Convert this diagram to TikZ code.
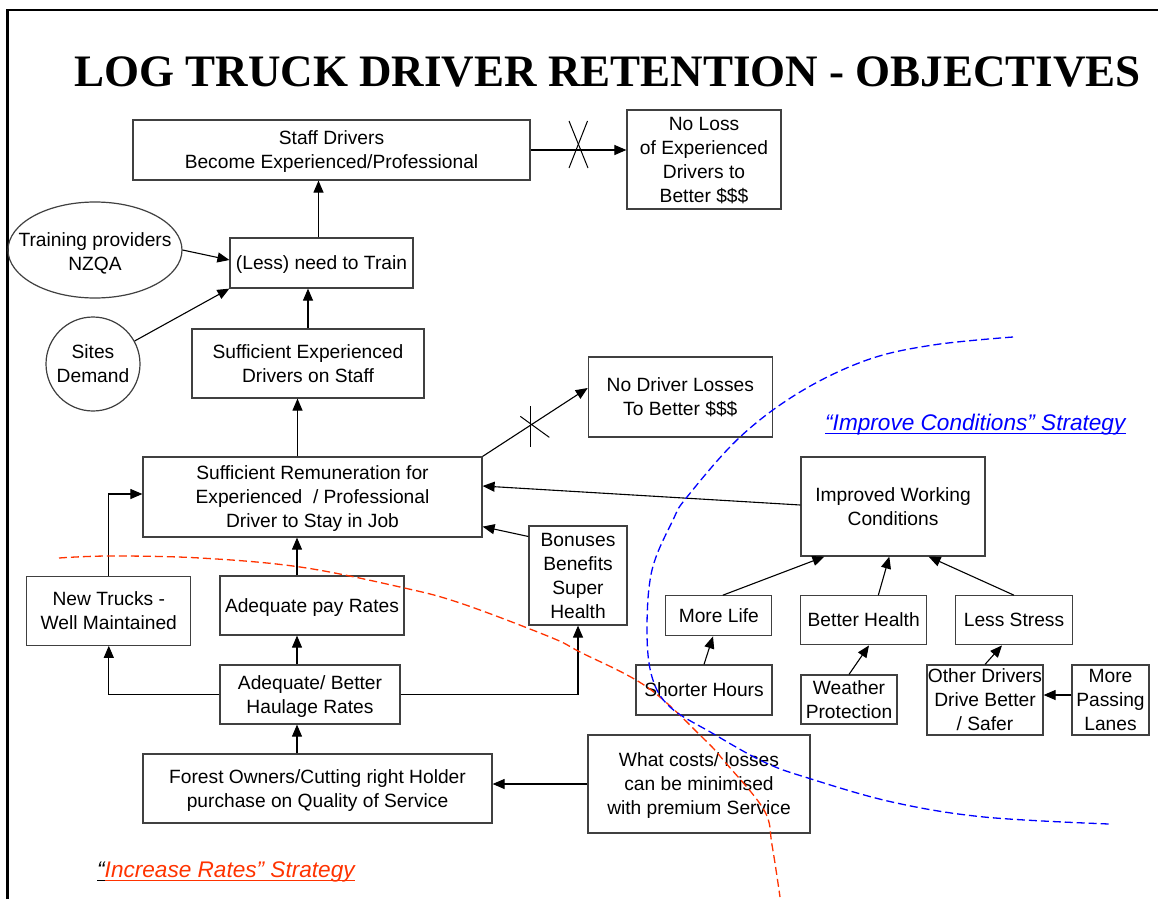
\documentclass[tikz,border=0pt]{standalone}
\usepackage{fontspec}
\setmainfont{Liberation Sans}
\newfontfamily\titlefont{Liberation Serif}
\usetikzlibrary{arrows.meta,shapes.geometric,calc}

\definecolor{boxline}{RGB}{64,64,64}
\definecolor{ratesred}{RGB}{255,51,0}
\definecolor{condblue}{RGB}{0,0,255}

% line strut: fixed ascent and descent for the first and last text lines
\newcommand\boxstrut{\rule[-4.1pt]{0pt}{21.5pt}}

\begin{document}
\begin{tikzpicture}[x=1pt,y=-1pt,
  boxtext/.style={inner sep=0pt, align=center, text=black,
    font=\fontsize{19.2}{24}\selectfont,
    execute at end node={\boxstrut}},
  box/.style={boxtext, draw=boxline, line width=1.2pt, rectangle},
  sz/.style 2 args={minimum width=#1pt, minimum height=#2pt},
  arr/.style={-{Triangle[length=12pt,width=10pt]}, line width=1.1pt, black},
  xmark/.style={line width=1pt, black},
  strat/.style={inner sep=0pt, font=\itshape\fontsize{22.6}{26}\selectfont},
  strategyline/.style={dashed, dash pattern=on 8pt off 4pt, line width=1.3pt}
]
\useasboundingbox (0,0) rectangle (1158,899);
\fill[white] (0,0) rectangle (1158,899);

% page frame
\draw[line width=2.7pt, line join=miter] (7.5,899) -- (7.5,10) -- (1158,10);

% title
\node[anchor=base, inner sep=0pt, font={\titlefont\bfseries\fontsize{45}{50}\selectfont}]
  (title) at (607.5,86) {LOG TRUCK DRIVER RETENTION - OBJECTIVES};

% boxes
\node[box, sz={397}{60}] (sd) at (331.5,150) {\boxstrut Staff Drivers\\Become Experienced/Professional};
\node[box, sz={154}{99}] (nl) at (704,159.5) {\boxstrut No Loss\\of Experienced\\Drivers to\\Better \$\$\$};
\node[draw=boxline, line width=1.2pt, ellipse, inner sep=0pt, sz={174}{96}] (tp) at (95,250) {};
\node[boxtext] (tptext) at ($(tp.center)+(0,2)$) {\boxstrut Training providers\\NZQA};
\node[box, sz={183}{50}] (ln) at (321.5,263) {\boxstrut (Less) need to Train};
\node[box, circle, minimum size=94pt] (sdm) at (93,364) {\boxstrut Sites\\Demand};
\node[box, sz={232}{69}] (se) at (308,363.5) {\boxstrut Sufficient Experienced\\Drivers on Staff};
\node[box, sz={184}{80}] (nd) at (680.3,397) {\boxstrut No Driver Losses\\To Better \$\$\$};
\node[box, sz={339}{80}] (sr) at (312.5,497) {\boxstrut Sufficient Remuneration for\\Experienced\ \ / Professional\\Driver to Stay in Job};
\node[box, sz={184}{99}] (iw) at (893,506.5) {\boxstrut Improved Working\\Conditions};
\node[box, sz={164}{69}] (nt) at (108.8,610.7) {\boxstrut New Trucks -\\Well Maintained};
\node[box, sz={184}{59}] (ap) at (312,605.5) {\boxstrut Adequate pay Rates};
\node[box, sz={98}{99}] (bb) at (578,575.5) {\boxstrut Bonuses\\Benefits\\Super\\Health};
\node[box, sz={180}{59}] (hr) at (310,694.5) {\boxstrut Adequate/ Better\\Haulage Rates};
\node[box, sz={106}{40}] (ml) at (718.8,615.8) {\boxstrut More Life};
\node[box, sz={136}{50}] (sh) at (704,690) {\boxstrut Shorter Hours};
\node[box, sz={126}{49}] (bh) at (863.7,620.3) {\boxstrut Better Health};
\node[box, sz={96}{49}] (wp) at (849,699.5) {\boxstrut Weather\\Protection};
\node[box, sz={116.6}{49}] (ls) at (1014,620.3) {\boxstrut Less Stress};
\node[box, sz={116}{70}] (od) at (985,700) {\boxstrut Other Drivers\\Drive Better\\/ Safer};
\node[box, sz={77}{70}] (mp) at (1110.5,700) {\boxstrut More\\Passing\\Lanes};
\node[box, sz={349}{69}] (fo) at (317.5,788.5) {\boxstrut Forest Owners/Cutting right Holder\\purchase on Quality of Service};
\node[box, sz={222}{98}] (wc) at (699,784) {\boxstrut What costs/ losses\\can be minimised\\with premium Service};

% connectors
\draw[arr] (sd.east) -- (nl.west |- sd.east);
\coordinate (x1) at ($(sd.east)!0.5!(nl.west |- sd.east)$);
\draw[xmark] ($(x1)+(-9.5,-29)$) -- ($(x1)+(9.5,18)$);
\draw[xmark] ($(x1)+(9,-29)$) -- ($(x1)+(-9.5,18)$);

\draw[arr] ($(ln.north)+(-3,0)$) -- ($(ln.north |- sd.south)+(-3,0)$);
\draw[arr] (tp.east) -- ($(ln.west)+(0,-3)$);
\draw[arr] (sdm) -- (ln.south west);
\draw[arr] (se.north) -- (se.north |- ln.south);
\draw[arr] ($(sr.north)+(-15,0)$) -- ($(sr.north |- se.south)+(-15,0)$);

\coordinate (ndtip) at ($(nd.west)+(0,-9)$);
\draw[arr] (sr.north east) -- (ndtip);
\coordinate (x2) at ($(sr.north east)!0.454!(ndtip)$);
\draw[xmark] ($(x2)+(0,-19)$) -- ($(x2)+(0,22)$);
\draw[xmark] ($(x2)+(-10,-9)$) -- ($(x2)+(19,12)$);

\draw[arr] ($(iw.west)+(0,-1.5)$) -- ($(sr.east)+(0,-11)$);
\draw[arr] (nt.north) |- ($(sr.west)+(0,-3)$);
\draw[arr] ($(ap.north)+(-15,0)$) -- ($(ap.north |- sr.south)+(-15,0)$);
\draw[arr] ($(bb.west)+(0,-39)$) -- ($(sr.south east)+(0,-11)$);
\draw[arr] ($(hr.north)+(-13,0)$) -- ($(hr.north |- ap.south)+(-13,0)$);
\draw[arr] (hr.west) -| (nt.south);
\draw[arr] (hr.east) -| (bb.south);
\draw[arr] ($(fo.north)+(-20.5,0)$) -- ($(fo.north |- hr.south)+(-20.5,0)$);
\draw[arr] (wc.west) -- (fo.east |- wc.west);

\draw[arr] ($(ml.north)+(4,0)$) -- ($(iw.south west)+(24,0)$);
\draw[arr] ($(bh.north)+(14.6,0)$) -- ($(iw.south)+(-3.7,0)$);
\draw[arr] (ls.north) -- ($(iw.south east)+(-57,0)$);
\draw[arr] (sh.north) -- ($(ml.south)+(-5.8,0)$);
\draw[arr] (wp.north) -- ($(bh.south)+(5.3,0)$);
\draw[arr] (od.north) -- ($(ls.south)+(-12,0)$);
\draw[arr] ($(mp.west)+(0,-5)$) -- (od.east |- {$(mp.west)+(0,-5)$});

% strategy boundaries
\draw[strategyline, ratesred] plot[smooth, tension=0.6] coordinates {
  (59,558) (110,556) (200,558) (300,567) (400,587) (460,603) (550,637)
  (580,652) (647,687) (703,738) (725,762) (764,810) (772,845) (780,897)};
\draw[strategyline, condblue] plot[smooth, tension=0.6] coordinates {
  (1013,337) (933,345) (867,360) (800,392) (740,437) (687,497) (673,520)
  (652,570) (647,630) (652,677) (670,707) (712,733) (764,762) (808,778)
  (892,802) (984,817) (1109,824)};

% strategy labels
\node[strat, text=condblue, anchor=base west] (impr) at (825,430) {“Improve Conditions” Strategy};
\draw[condblue, line width=1.5pt] ($(impr.base west)+(0,3.5)$) -- ($(impr.base east)+(0,3.5)$);

\node[strat, anchor=base west] (incr) at (97,877) {\textcolor{black}{“}\textcolor{ratesred}{Increase Rates” Strategy}};
\draw[black, line width=1.5pt] ($(incr.base west)+(0,3.5)$) -- ($(incr.base west)+(8,3.5)$);
\draw[ratesred, line width=1.5pt] ($(incr.base west)+(8,3.5)$) -- ($(incr.base east)+(0,3.5)$);
\end{tikzpicture}
\end{document}
